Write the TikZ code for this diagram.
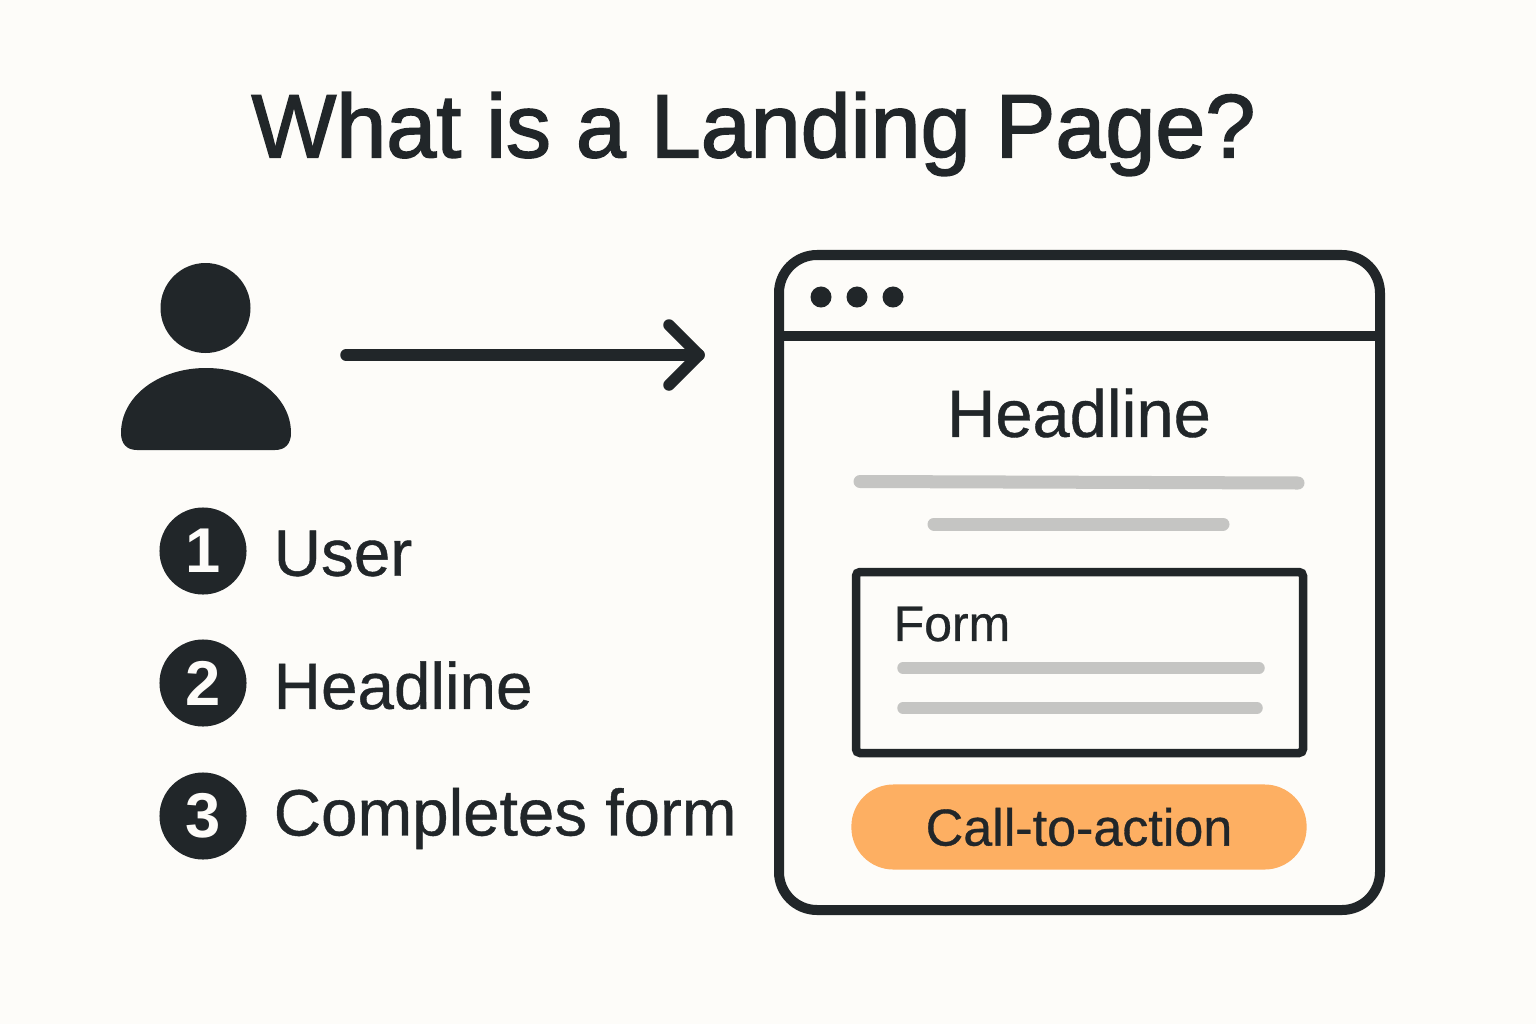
\documentclass[tikz,border=0pt]{standalone}
\usepackage{fontspec}
\setmainfont{Liberation Sans}
\newfontfamily\titlefont[FakeBold=1.8]{Liberation Sans}
\newfontfamily\midfont[FakeBold=0.6]{Liberation Sans}
\definecolor{ink}{HTML}{212629}
\definecolor{paper}{HTML}{FDFCF9}
\definecolor{bargray}{HTML}{C5C5C3}
\definecolor{cta}{HTML}{FDAF62}
\tikzset{
  label/.style={font=\midfont\fontsize{#1}{#1}\selectfont,text=ink,inner sep=0pt},
  badge/.style={circle,fill=ink,text=paper,minimum size=0.87cm,inner sep=0pt,font=\fontsize{18}{18}\selectfont\bfseries},
  dot/.style={circle,fill=ink,minimum size=0.21cm,inner sep=0pt},
  graybar/.style={line width=0.13cm,draw=bargray,line cap=round},
  frame/.style={line width=0.1cm,draw=ink}
}
\begin{document}
\begin{tikzpicture}[x=0.01cm,y=-0.01cm]
  \fill[paper] (0,0) rectangle (1536,1024);
  \node[font=\titlefont\fontsize{25.55}{25.55}\selectfont,text=ink,inner sep=0pt] (title) at (753.5,134) {What is a Landing Page?};

  % user icon
  \fill[ink] (205.5,308) circle (45);
  \fill[ink] (121,433) .. controls (121,396) and (159,368) .. (206,368)
    .. controls (253,368) and (291,396) .. (291,433)
    .. controls (291,444) and (285,450) .. (275,450) -- (137,450)
    .. controls (127,450) and (121,444) .. (121,433) -- cycle;

  % arrow
  \coordinate (from) at (346,355);
  \coordinate (to) at (699,355);
  \draw[ink,line width=0.115cm,line cap=round,line join=round] (from) -- (to);
  \draw[ink,line width=0.115cm,line cap=round,line join=round] (669,325) -- (to) -- (669,385);

  % numbered list
  \foreach \y/\t [count=\i] in {551/User,683/Headline,816/Completes form} {
    \node[badge] (b\i) at (203,\y) {\i};
    \node[label=18.65,anchor=west] (t\i) at (273,\y+2.5) {\t};
  }

  % browser window
  \draw[frame,rounded corners=0.38cm] (779,255) rectangle (1380,910);
  \draw[frame] (779,336) -- (1380,336);
  \foreach \x [count=\i] in {821,857,893} {
    \node[dot] (d\i) at (\x,297) {};
  }
  \node[label=19] (head) at (1079,413) {Headline};
  \draw[graybar] (860,481.5) -- (1298,483);
  \draw[graybar] (934,524) -- (1223,524);

  % form
  \draw[frame,line width=0.085cm,rounded corners=0.04cm] (856,572) rectangle (1303,753);
  \node[label=14.2,anchor=west] (form) at (893,624) {Form};
  \draw[graybar,line width=0.115cm] (903,668) -- (1259,668);
  \draw[graybar,line width=0.115cm] (903,708) -- (1257,708);

  % button
  \node[fill=cta,rounded corners=0.42cm,minimum width=4.55cm,minimum height=0.85cm,inner sep=0pt] (btn) at (1079,827) {};
  \node[label=14.8] (cta) at (btn) {Call-to-action};
\end{tikzpicture}
\end{document}
